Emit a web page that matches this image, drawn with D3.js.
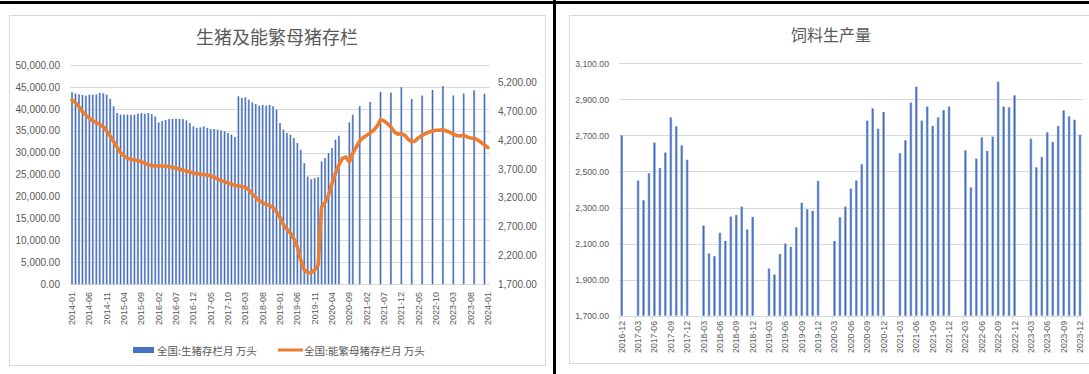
<!DOCTYPE html>
<html><head><meta charset="utf-8">
<script src="https://cdn.jsdelivr.net/npm/d3@7/dist/d3.min.js"></script>
<style>body{margin:0;background:#fff}svg{display:block}</style>
</head><body>
<svg id="c" width="1089" height="374"></svg>
<script>
// ---------- DATA ----------
function months(y0, m0, y1, m1) {
  const out = [];
  for (let y = y0, m = m0; y < y1 || (y === y1 && m <= m1); m++) {
    if (m > 12) { m = 1; y++; if (y > y1 || (y === y1 && m > m1)) break; }
    out.push(y + "-" + String(m).padStart(2, "0"));
  }
  return out;
}
const hogCategories = months(2014, 1, 2024, 1);          // 121 months
const hogValues = [
  43780, 43480, 43320, 43170, 43020, 43250, 43250, 43320, 43630, 43550, 43250, 42260, // 2014
  40580, 39060, 38680, 38680, 38680, 38600, 38680, 38900, 39060, 38900, 39060, 38830, // 2015
  38290, 36920, 37230, 37460, 37690, 37690, 37760, 37690, 37690, 37380, 36770, 36010, // 2016
  35630, 35780, 36010, 35630, 35400, 35400, 35250, 35090, 34870, 34480, 34100, 33570, // 2017
  42870, 42490, 42640, 42100, 41500, 41110, 40730, 40890, 40730, 40890, 40580, 39820, // 2018
  36770, 35250, 34480, 34100, 33340, 32200, 30670, 27630, 24580, 23970, 24200, 24430, // 2019
  28010, 28770, 29910, 31060, 32960, 33880, null, null, 36900, 38680, null, 40600,    // 2020
  null, null, 41550, null, null, 43880, null, null, 43700, null, null, 44950,          // 2021
  null, null, 42260, null, null, 43030, null, null, 44300, null, null, 45200,          // 2022
  null, null, 43050, null, null, 43500, null, null, 44230, null, null, 43450,          // 2023
  null                                                                                  // 2024-01
];
const sowValues = [
  4894, 4847, 4778, 4691, 4634, 4577, 4535, 4500, 4473, 4431, 4357, 4270,  // 2014
  4171, 4074, 3981, 3923, 3884, 3866, 3854, 3842, 3825, 3797, 3773, 3756,  // 2015
  3750, 3750, 3750, 3745, 3739, 3727, 3710, 3693, 3675, 3664, 3646, 3629,  // 2016
  3617, 3606, 3600, 3594, 3577, 3554, 3525, 3496, 3479, 3456, 3433, 3416,  // 2017
  3404, 3393, 3381, 3335, 3266, 3207, 3150, 3115, 3086, 3062, 3029, 2953,  // 2018
  2861, 2728, 2653, 2589, 2490, 2346, 2121, 1948, 1901, 1901, 1948, 2034,  // 2019
  3045, 3115, 3248, 3450, 3623, 3767, 3883, 3906, 3819, 3975, 4079, 4183,  // 2020
  4241, 4282, 4322, 4369, 4438, 4553, 4531, 4484, 4426, 4339, 4299, 4311,  // 2021
  4282, 4213, 4171, 4183, 4241, 4282, 4311, 4339, 4357, 4369, 4369, 4380,  // 2022
  4357, 4334, 4299, 4276, 4270, 4282, 4253, 4236, 4230, 4201, 4160, 4114,  // 2023
  4067                                                                      // 2024-01
];
const hogLeftTicks = [0, 5000, 10000, 15000, 20000, 25000, 30000, 35000, 40000, 45000, 50000];
const hogRightTicks = [1700, 2200, 2700, 3200, 3700, 4200, 4700, 5200];
const hogTickEvery = 5;
const hogTitle = "生猪及能繁母猪存栏";
const hogLegend = ["全国:生猪存栏月 万头", "全国:能繁母猪存栏月 万头"];

const feedCategories = months(2016, 12, 2023, 12);       // 85 months
const feedValues = [
  2700,                                                                   // 2016-12
  null, null, 2450, 2340, 2490, 2660, 2520, 2605, 2800, 2750, 2645, 2565,  // 2017
  null, null, 2200, 2045, 2030, 2160, 2115, 2250, 2258, 2305, 2178, 2248,  // 2018
  null, null, 1962, 1928, 2042, 2100, 2082, 2190, 2326, 2290, 2282, 2448,  // 2019
  null, null, 2114, 2246, 2305, 2405, 2450, 2540, 2782, 2850, 2737, 2830,  // 2020
  null, null, 2601, 2673, 2882, 2970, 2782, 2860, 2752, 2800, 2840, 2860,  // 2021
  null, null, 2617, 2412, 2571, 2689, 2614, 2693, 2998, 2860, 2856, 2922,  // 2022
  null, null, 2682, 2523, 2580, 2717, 2664, 2752, 2839, 2806, 2787, 2704   // 2023
];
const feedTicks = [1700, 1900, 2100, 2300, 2500, 2700, 2900, 3100];
const feedTickEvery = 3;
const feedTitle = "饲料生产量";

// ---------- DRAW ----------
const svg = d3.select("#c");
const TXT = "#595959", GRID = "#d9d9d9";
const NUMF = "'Liberation Sans', Arial, sans-serif";
const CJK = "'Noto Sans CJK SC', sans-serif";
const fmt = d3.format(",.2f");

svg.append("rect").attr("width", 1089).attr("height", 374).attr("fill", "#fff");

const defs = svg.append("defs");
const g1 = defs.append("linearGradient").attr("id", "barGrad").attr("x1", "0").attr("x2", "1").attr("y1", "0").attr("y2", "0");
g1.append("stop").attr("offset", "0%").attr("stop-color", "#a8b8d8");
g1.append("stop").attr("offset", "50%").attr("stop-color", "#3a69c2");
g1.append("stop").attr("offset", "100%").attr("stop-color", "#a8b8d8");

// frames
svg.append("rect").attr("x", 9.5).attr("y", 15.5).attr("width", 536).attr("height", 350)
  .attr("fill", "none").attr("stroke", GRID);
svg.append("rect").attr("x", 569.5).attr("y", 15.5).attr("width", 540).attr("height", 348)
  .attr("fill", "none").attr("stroke", GRID);

// ===== Left chart =====
(function () {
  const x = d3.scaleBand().domain(hogCategories).range([70.3, 489.7]).padding(0);
  const yL = d3.scaleLinear().domain([0, 50000]).range([284.3, 65]);
  const yR = d3.scaleLinear().domain([1700, 5200]).range([284.3, 82.3]);
  const g = svg.append("g");
  const cx = c => x(c) + x.bandwidth() / 2;

  g.append("text").attr("x", 277).attr("y", 36).attr("text-anchor", "middle")
    .attr("dominant-baseline", "central").attr("font-family", CJK).attr("font-size", 18)
    .attr("fill", TXT).text(hogTitle);

  g.selectAll(".gl").data(hogLeftTicks).enter().append("line")
    .attr("x1", 70.3).attr("x2", 489.7)
    .attr("y1", d => Math.round(yL(d)) + 0.5).attr("y2", d => Math.round(yL(d)) + 0.5)
    .attr("stroke", GRID);

  const axL = d3.axisLeft(yL).tickValues(hogLeftTicks).tickFormat(fmt).tickSize(0).tickPadding(10);
  const aL = g.append("g").attr("transform", "translate(70,0)").call(axL);
  aL.select(".domain").remove();
  aL.selectAll("text").attr("font-family", NUMF).attr("font-size", 10).attr("fill", TXT);

  const axR = d3.axisRight(yR).tickValues(hogRightTicks).tickFormat(fmt).tickSize(0).tickPadding(8);
  const aR = g.append("g").attr("transform", "translate(490,0)").call(axR);
  aR.select(".domain").remove();
  aR.selectAll("text").attr("font-family", NUMF).attr("font-size", 10).attr("fill", TXT);

  const bw = x.bandwidth() * 0.62;
  g.selectAll(".bar").data(hogCategories.map((c, i) => ({ c, v: hogValues[i] })).filter(d => d.v != null))
    .enter().append("rect")
    .attr("x", d => cx(d.c) - bw / 2).attr("width", bw)
    .attr("y", d => yL(d.v)).attr("height", d => yL(0) - yL(d.v))
    .attr("fill", "url(#barGrad)");

  const line = d3.line().x((d, i) => cx(hogCategories[i])).y(d => yR(d));
  g.append("path").datum(sowValues).attr("d", line).attr("fill", "none")
    .attr("stroke", "#ED7D31").attr("stroke-width", 3.6).attr("stroke-linejoin", "round").attr("stroke-linecap", "round");

  const ticks = hogCategories.filter((c, i) => i % hogTickEvery === 0);
  g.selectAll(".xl").data(ticks).enter().append("text")
    .attr("transform", d => `translate(${cx(d) + 3},292) rotate(-90)`)
    .attr("text-anchor", "end").attr("font-family", NUMF).attr("font-size", 9)
    .attr("fill", TXT).text(d => d);

  // legend
  const ly = 350;
  g.append("rect").attr("x", 133).attr("y", ly - 3).attr("width", 21).attr("height", 6).attr("fill", "#4472C4");
  g.append("text").attr("x", 157).attr("y", ly).attr("dominant-baseline", "central")
    .attr("font-family", CJK).attr("font-size", 10.5).attr("fill", TXT).text(hogLegend[0]);
  g.append("line").attr("x1", 278).attr("x2", 303).attr("y1", ly).attr("y2", ly)
    .attr("stroke", "#ED7D31").attr("stroke-width", 3);
  g.append("text").attr("x", 304).attr("y", ly).attr("dominant-baseline", "central")
    .attr("font-family", CJK).attr("font-size", 10.5).attr("fill", TXT).text(hogLegend[1]);
})();

// ===== Right chart =====
(function () {
  const x = d3.scaleBand().domain(feedCategories).range([618.97, 1082.73]).padding(0);
  const y = d3.scaleLinear().domain([1700, 3100]).range([315.7, 63.3]);
  const g = svg.append("g");
  const cx = c => x(c) + x.bandwidth() / 2;

  g.append("text").attr("x", 831).attr("y", 34).attr("text-anchor", "middle")
    .attr("dominant-baseline", "central").attr("font-family", CJK).attr("font-size", 16)
    .attr("fill", TXT).text(feedTitle);

  g.selectAll(".gl").data(feedTicks).enter().append("line")
    .attr("x1", 618.97).attr("x2", 1082.73)
    .attr("y1", d => Math.round(y(d)) + 0.5).attr("y2", d => Math.round(y(d)) + 0.5)
    .attr("stroke", GRID);

  const ax = d3.axisLeft(y).tickValues(feedTicks).tickFormat(fmt).tickSize(0).tickPadding(10);
  const a = g.append("g").attr("transform", "translate(619,0)").call(ax);
  a.select(".domain").remove();
  a.selectAll("text").attr("font-family", NUMF).attr("font-size", 8.7).attr("fill", TXT);

  const bw = x.bandwidth() * 0.5;
  g.selectAll(".bar").data(feedCategories.map((c, i) => ({ c, v: feedValues[i] })).filter(d => d.v != null))
    .enter().append("rect")
    .attr("x", d => cx(d.c) - bw / 2).attr("width", bw)
    .attr("y", d => y(d.v)).attr("height", d => y(1700) - y(d.v))
    .attr("fill", "url(#barGrad)");

  const ticks = feedCategories.filter((c, i) => i % feedTickEvery === 0);
  g.selectAll(".tk").data(ticks).enter().append("line")
    .attr("x1", d => Math.round(x(d)) + 0.5).attr("x2", d => Math.round(x(d)) + 0.5)
    .attr("y1", 315.7).attr("y2", 319.5).attr("stroke", GRID);
  g.selectAll(".xl").data(ticks).enter().append("text")
    .attr("transform", d => `translate(${cx(d) + 3},321) rotate(-90)`)
    .attr("text-anchor", "end").attr("font-family", NUMF).attr("font-size", 8.7)
    .attr("fill", TXT).text(d => d);
})();

// panel separators
svg.append("rect").attr("x", 0).attr("y", 1).attr("width", 1089).attr("height", 3).attr("fill", "#000");
svg.append("rect").attr("x", 553).attr("y", 0).attr("width", 3).attr("height", 374).attr("fill", "#000");
</script>
</body></html>
